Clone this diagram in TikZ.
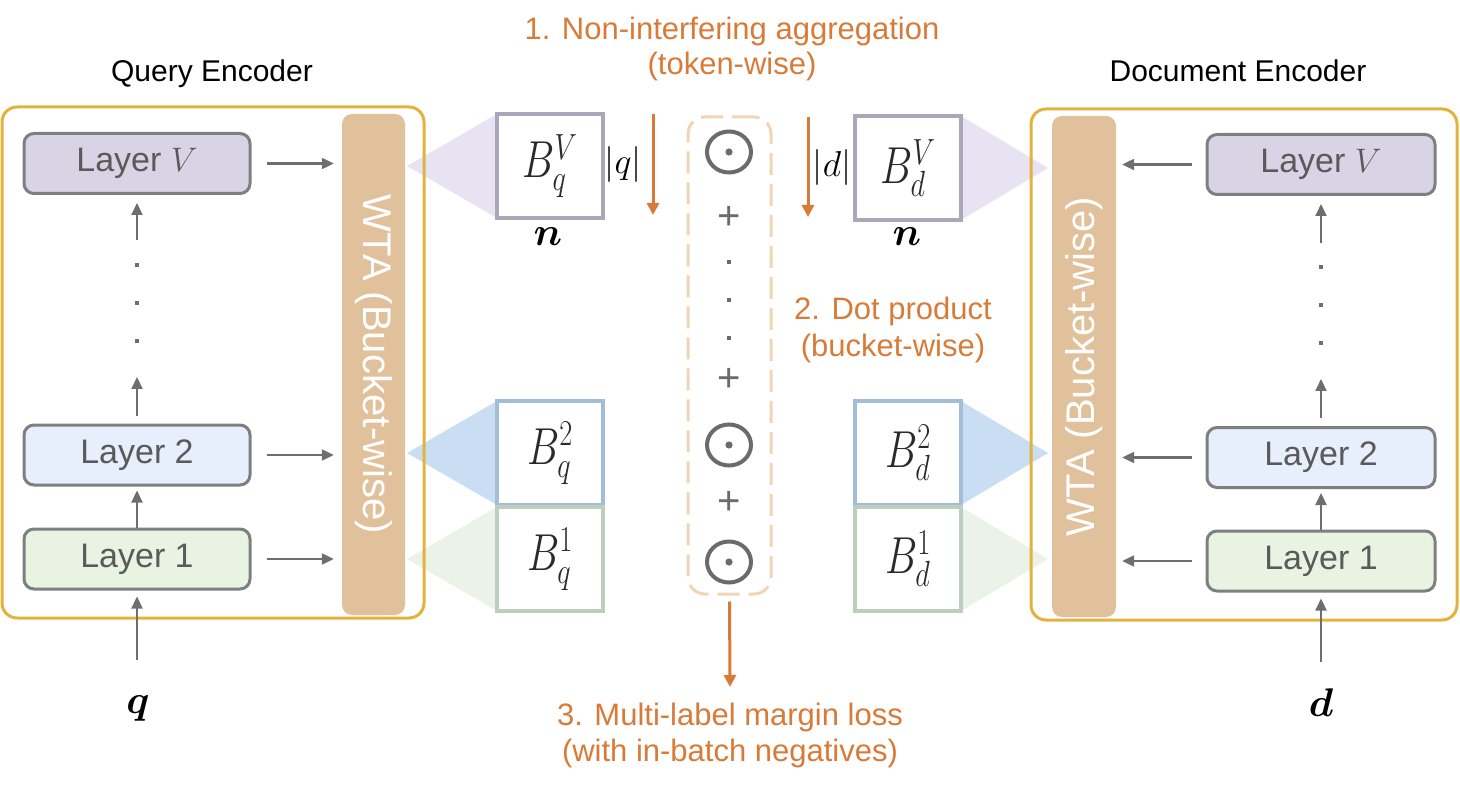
\RequirePackage{fix-cm}
\documentclass[tikz,border=0pt]{standalone}
\usepackage[no-math]{fontspec}
\setmainfont{Liberation Sans}
\usetikzlibrary{arrows.meta,shapes.geometric}
\definecolor{gold}{HTML}{E3B23C}
\definecolor{tanc}{HTML}{E1C19C}
\definecolor{lavfill}{HTML}{D9D3E6}
\definecolor{bluefill}{HTML}{E6EFFB}
\definecolor{greenfill}{HTML}{E9F3E2}
\definecolor{boxgray}{HTML}{7F7F7F}
\definecolor{txtgray}{HTML}{5A5A5A}
\definecolor{arrgray}{HTML}{6E6E6E}
\definecolor{opgray}{HTML}{6B6B6B}
\definecolor{orng}{HTML}{D97B38}
\definecolor{dashc}{HTML}{F0D5B5}
\definecolor{bordV}{HTML}{AAA7BB}
\definecolor{bordB}{HTML}{A3BDD6}
\definecolor{bordG}{HTML}{BCCFBE}
\definecolor{triV}{HTML}{E4DEF1}
\definecolor{triB}{HTML}{BFD7F1}
\definecolor{triG}{HTML}{E8F0E3}
\definecolor{btext}{HTML}{2A2A2A}
\begin{document}
\begin{tikzpicture}[x=1pt,y=-1pt,
  layer/.style={draw=boxgray, line width=3pt, rounded corners=10pt, minimum width=226pt, minimum height=60pt, inner sep=0pt, text=txtgray, font=\fontsize{34}{40}\selectfont},
  garr/.style={draw=arrgray, line width=2.2pt, -{Triangle[length=12pt,width=11pt]}},
  oarr/.style={draw=orng, line width=3pt, -{Triangle[length=12pt,width=12pt]}},
  bbox/.style={draw, fill=white, line width=4pt, minimum width=106pt, minimum height=104pt, inner sep=0pt, text=btext, font=\fontsize{52}{60}\selectfont},
  otext/.style={text=orng, font=\fontsize{31}{36}\selectfont, anchor=base, inner sep=0pt},
  ttext/.style={text=black, font=\fontsize{30}{36}\selectfont, anchor=base, inner sep=0pt},
  mtext/.style={text=black, font=\fontsize{40}{48}\selectfont\boldmath, inner sep=0pt},
  wtabar/.style={fill=tanc, rounded corners=10pt, minimum width=63pt, minimum height=501pt, inner sep=0pt},
  wtalab/.style={text=white, font=\fontsize{40}{48}\selectfont, inner sep=0pt},
  odotc/.style={ellipse, draw=opgray, line width=4pt, minimum width=44pt, minimum height=41pt, inner sep=0pt},
  plusc/.style={text=opgray, font=\fontsize{40}{48}\selectfont, inner sep=0pt},
  encbox/.style={draw=gold, line width=3pt, rounded corners=15pt},
  dotsq/.style={fill=#1, minimum size=4pt, inner sep=0pt}
]
\useasboundingbox (0,0) rectangle (1460,794);

% coloured wedges behind the bucket boxes
\fill[triV, opacity=.85] (407,166) -- (497,114) -- (497,218) -- cycle;
\fill[triB, opacity=.85] (407,453) -- (497,401) -- (497,505) -- cycle;
\fill[triG, opacity=.85] (407,559) -- (497,507) -- (497,611) -- cycle;
\fill[triV, opacity=.85] (1048,168) -- (961,116) -- (961,220) -- cycle;
\fill[triB, opacity=.85] (1048,453) -- (961,401) -- (961,505) -- cycle;
\fill[triG, opacity=.85] (1048,559) -- (961,507) -- (961,611) -- cycle;

% encoder frames
\draw[encbox] (2,107) rectangle (424,618);
\draw[encbox] (1031,109) rectangle (1457,620);

% titles
\node[ttext] (qtitle) at (212,82) {Query Encoder};
\node[ttext] (dtitle) at (1238,82) {Document Encoder};

% query encoder
\node[layer, fill=lavfill] (LV) at (137,163.5) {Layer $V$};
\node[layer, fill=bluefill] (L2) at (137,455) {Layer 2};
\node[layer, fill=greenfill] (L1) at (137,559) {Layer 1};
\node[wtabar, label={[wtalab, rotate=-90]center:WTA (Bucket-wise)}] (WTAq) at (373.5,364.5) {};

\foreach \yy in {265,303,341} \node[dotsq=arrgray] at (137,\yy) {};
\coordinate (dLtop) at (137,240);
\coordinate (dLbot) at (137,377);
\coordinate (qin) at (137,660);
\draw[garr, shorten >=4pt] (L1.north) -- (L2.south);
\draw[garr, shorten <=8pt] (L2.north) -- (dLbot);
\draw[garr, shorten >=8pt] (dLtop) -- (LV.south);
\draw[garr, shorten >=6pt] (qin) -- (L1.south);
\foreach \n in {LV,L2,L1}
  \draw[garr, shorten <=15pt, shorten >=8pt] (\n.east) -- (\n.east -| WTAq.west);
\node[mtext] (q) at (138,708) {$q$};

% document encoder
\node[layer, fill=lavfill, minimum width=228pt] (RV) at (1321,164.5) {Layer $V$};
\node[layer, fill=bluefill, minimum width=228pt] (R2) at (1321,457.5) {Layer 2};
\node[layer, fill=greenfill, minimum width=228pt] (R1) at (1321,561) {Layer 1};
\node[wtabar, minimum width=64pt, label={[wtalab, rotate=90]center:WTA (Bucket-wise)}] (WTAd) at (1084,366.5) {};

\foreach \yy in {267,305,343} \node[dotsq=arrgray] at (1321,\yy) {};
\coordinate (dRtop) at (1321,243);
\coordinate (dRbot) at (1321,379);
\coordinate (din) at (1321,662);
\draw[garr, shorten >=4pt] (R1.north) -- (R2.south);
\draw[garr, shorten <=8pt] (R2.north) -- (dRbot);
\draw[garr, shorten >=8pt] (dRtop) -- (RV.south);
\draw[garr, shorten >=6pt] (din) -- (R1.south);
\foreach \n in {RV,R2,R1}
  \draw[garr, shorten <=14pt, shorten >=6pt] (\n.west) -- (\n.west -| WTAd.east);
\node[mtext] (d) at (1321,703) {$d$};

% bucket boxes
\node[bbox, draw=bordV] (BqV) at (550,166) {\scalebox{0.78}[1]{$B_q^V$}};
\node[bbox, draw=bordB] (Bq2) at (550,453) {\scalebox{0.78}[1]{$B_q^2$}};
\node[bbox, draw=bordG] (Bq1) at (550,559) {\scalebox{0.78}[1]{$B_q^1$}};
\node[bbox, draw=bordV] (BdV) at (908,168) {\scalebox{0.78}[1]{$B_d^V$}};
\node[bbox, draw=bordB] (Bd2) at (908,453) {\scalebox{0.78}[1]{$B_d^2$}};
\node[bbox, draw=bordG] (Bd1) at (908,559) {\scalebox{0.78}[1]{$B_d^1$}};
\node[mtext] (nq) at (548,237) {$n$};
\node[mtext] (nd) at (907,237) {$n$};
\node[mtext, font=\fontsize{36}{42}\selectfont] (lq) at (623,165) {$|q|$};
\node[mtext, font=\fontsize{36}{42}\selectfont] (ld) at (832,168) {$|d|$};

% aggregation arrows
\coordinate (aqs) at (653,114);
\coordinate (aqe) at (653,215);
\coordinate (ads) at (808,117);
\coordinate (ade) at (808,217);
\draw[oarr] (aqs) -- (aqe);
\draw[oarr] (ads) -- (ade);

% dot-product column
\node[draw=dashc, line width=3pt, dash pattern=on 22pt off 9pt, rounded corners=17pt, minimum width=83pt, minimum height=477pt, inner sep=0pt] (agg) at (729.5,355.5) {};
\node[odotc] (o3) at (729,152) {};
\node[odotc] (o2) at (729,445) {};
\node[odotc] (o1) at (729,562) {};
\foreach \o in {o1,o2,o3} \fill[opgray] (\o.center) circle (3.6pt);
\node[plusc] (p3) at (729,218) {+};
\node[plusc] (p2) at (729,380) {+};
\node[plusc] (p1) at (729,503) {+};
\foreach \yy in {262,300,338} \node[dotsq=opgray] at (729,\yy) {};

% loss arrow
\coordinate (lossin) at (730,687);
\draw[oarr, shorten <=6pt] (agg.south) -- (lossin);

% orange annotations
\node[otext] (t1a) at (732,40) {1. Non-interfering aggregation};
\node[otext] (t1b) at (732,75) {(token-wise)};
\node[otext] (t2a) at (893,320) {2. Dot product};
\node[otext] (t2b) at (893,357) {(bucket-wise)};
\node[otext] (t3a) at (730,725) {3. Multi-label margin loss};
\node[otext] (t3b) at (730,761) {(with in-batch negatives)};
\end{tikzpicture}
\end{document}
